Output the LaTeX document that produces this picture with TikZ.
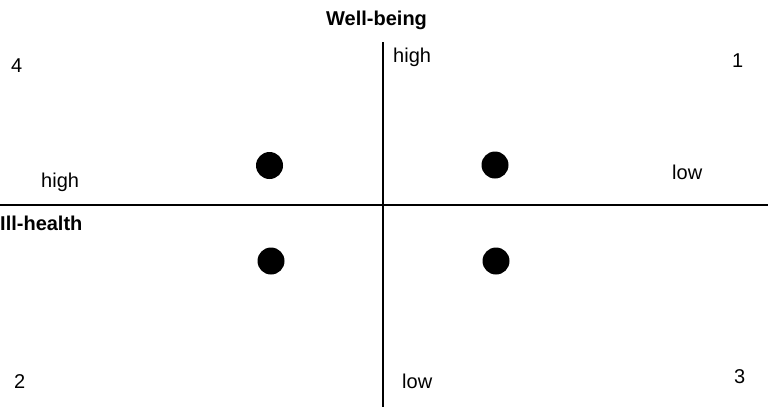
\documentclass[tikz,border=0pt]{standalone}
\usepackage{fontspec}
\setmainfont{Liberation Sans}
\begin{document}
\begin{tikzpicture}[x=1pt,y=-1pt,
  lbl/.style={anchor=base west,inner sep=0pt,font=\fontsize{20}{24}\selectfont},
  blbl/.style={lbl,font=\fontsize{20}{24}\selectfont\bfseries},
  axis/.style={line width=1.4pt},
  dot/.style={circle,fill=black,minimum size=27pt,inner sep=0pt}]
\useasboundingbox (0,0) rectangle (771,407);
\coordinate (vt) at (383,42);
\coordinate (vb) at (383,407);
\coordinate (hl) at (0,205);
\coordinate (hr) at (768,205);
\draw[axis] (vt) -- (vb);
\draw[axis] (hl) -- (hr);
\node[blbl] (wb) at (326,25) {Well-being};
\node[blbl] (ih) at (0,230) {Ill-health};
\node[lbl] (hightop) at (393,62) {high};
\node[lbl] (highleft) at (41,187) {high};
\node[lbl] (lowright) at (672,179) {low};
\node[lbl] (lowbot) at (402,388) {low};
\node[lbl] (q1) at (732,67) {1};
\node[lbl] (q4) at (11,72) {4};
\node[lbl] (q2) at (14,388) {2};
\node[lbl] (q3) at (734,383) {3};
\node[dot] (d1) at (269.5,165.5) {};
\node[dot] (d2) at (495,165) {};
\node[dot] (d3) at (271,261) {};
\node[dot] (d4) at (496,261) {};
\end{tikzpicture}
\end{document}
